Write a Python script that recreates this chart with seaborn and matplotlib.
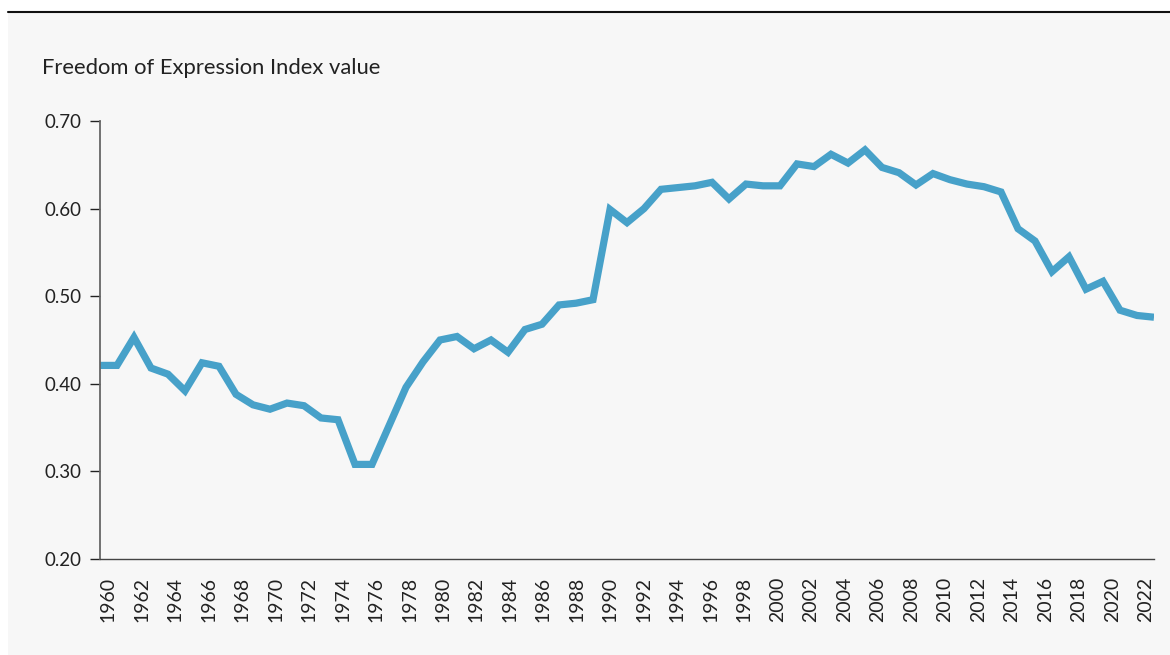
import matplotlib
matplotlib.use("Agg")
import matplotlib.pyplot as plt
import seaborn as sns
import pandas as pd
from matplotlib.patches import Rectangle
from matplotlib.lines import Line2D

years = list(range(1960, 2023))
values = [
    0.421, 0.421, 0.453, 0.418, 0.411, 0.392, 0.424, 0.420, 0.388, 0.376,  # 1960-1969
    0.371, 0.378, 0.375, 0.361, 0.359, 0.308, 0.308, 0.352, 0.396, 0.425,  # 1970-1979
    0.450, 0.454, 0.440, 0.450, 0.436, 0.462, 0.468, 0.490, 0.492, 0.496,  # 1980-1989
    0.599, 0.584, 0.600, 0.622, 0.624, 0.626, 0.630, 0.611, 0.628, 0.626,  # 1990-1999
    0.626, 0.651, 0.648, 0.662, 0.652, 0.667, 0.647, 0.641, 0.627, 0.640,  # 2000-2009
    0.633, 0.628, 0.625, 0.619, 0.577, 0.563, 0.528, 0.545, 0.508, 0.517,  # 2010-2019
    0.484, 0.478, 0.476,                                                   # 2020-2022
]
y_ticks = [0.20, 0.30, 0.40, 0.50, 0.60, 0.70]
label_years = list(range(1960, 2023, 2))
title = "Freedom of Expression Index value"

df = pd.DataFrame({"year": years, "value": values})

sns.set_theme(style="white")
plt.rcParams["font.family"] = ["Lato", "DejaVu Sans"]

W, H = 1170, 655
fig = plt.figure(figsize=(W / 100, H / 100), dpi=100)
fig.patch.set_facecolor("white")

panel_color = "#f7f7f7"
fig.patches.append(Rectangle((8 / W, 0), 1 - 8 / W, 1 - 12 / H, transform=fig.transFigure,
                             facecolor=panel_color, edgecolor="none", zorder=-10))
fig.lines.append(Line2D([8 / W, 1], [1 - 12 / H, 1 - 12 / H], transform=fig.transFigure,
                        color="#111111", lw=1.5, zorder=-5))

left, right = 100 / W, 1154 / W
bottom, top = (H - 559) / H, (H - 121) / H
ax = fig.add_axes([left, bottom, right - left, top - bottom])
ax.set_facecolor("none")
ax.set_zorder(1)

sns.lineplot(data=df, x="year", y="value", ax=ax, color="#47a1c9", lw=5.2,
             solid_joinstyle="miter", solid_capstyle="butt")

ax.set_xlim(years[0], years[-1])
ax.set_ylim(y_ticks[0], y_ticks[-1])
ax.set_xlabel("")
ax.set_ylabel("")

# band-centred year labels
n = len(years)
span = years[-1] - years[0]
tick_pos = [years[0] + (y - years[0] + 0.5) * span / n for y in label_years]
ax.set_xticks(tick_pos)
ax.set_xticklabels([str(y) for y in label_years], rotation=90, fontsize=14, color="#222222")
ax.tick_params(axis="x", length=0, pad=13)

ax.set_yticks(y_ticks)
ax.set_yticklabels([f"{v:.2f}" for v in y_ticks], fontsize=13.5, color="#222222")
ax.tick_params(axis="y", length=7, width=1, color="#222222", pad=6, direction="out", left=True)

for s in ["top", "right"]:
    ax.spines[s].set_visible(False)
ax.spines["left"].set_color("#666666")
ax.spines["left"].set_linewidth(1.3)
ax.spines["bottom"].set_color("#444444")
ax.spines["bottom"].set_linewidth(1.0)

fig.text(42 / W, 1 - 74 / H, title, fontsize=15.8, color="#222222", va="baseline", ha="left")

fig.savefig("out.png", dpi=100, facecolor=fig.get_facecolor())
